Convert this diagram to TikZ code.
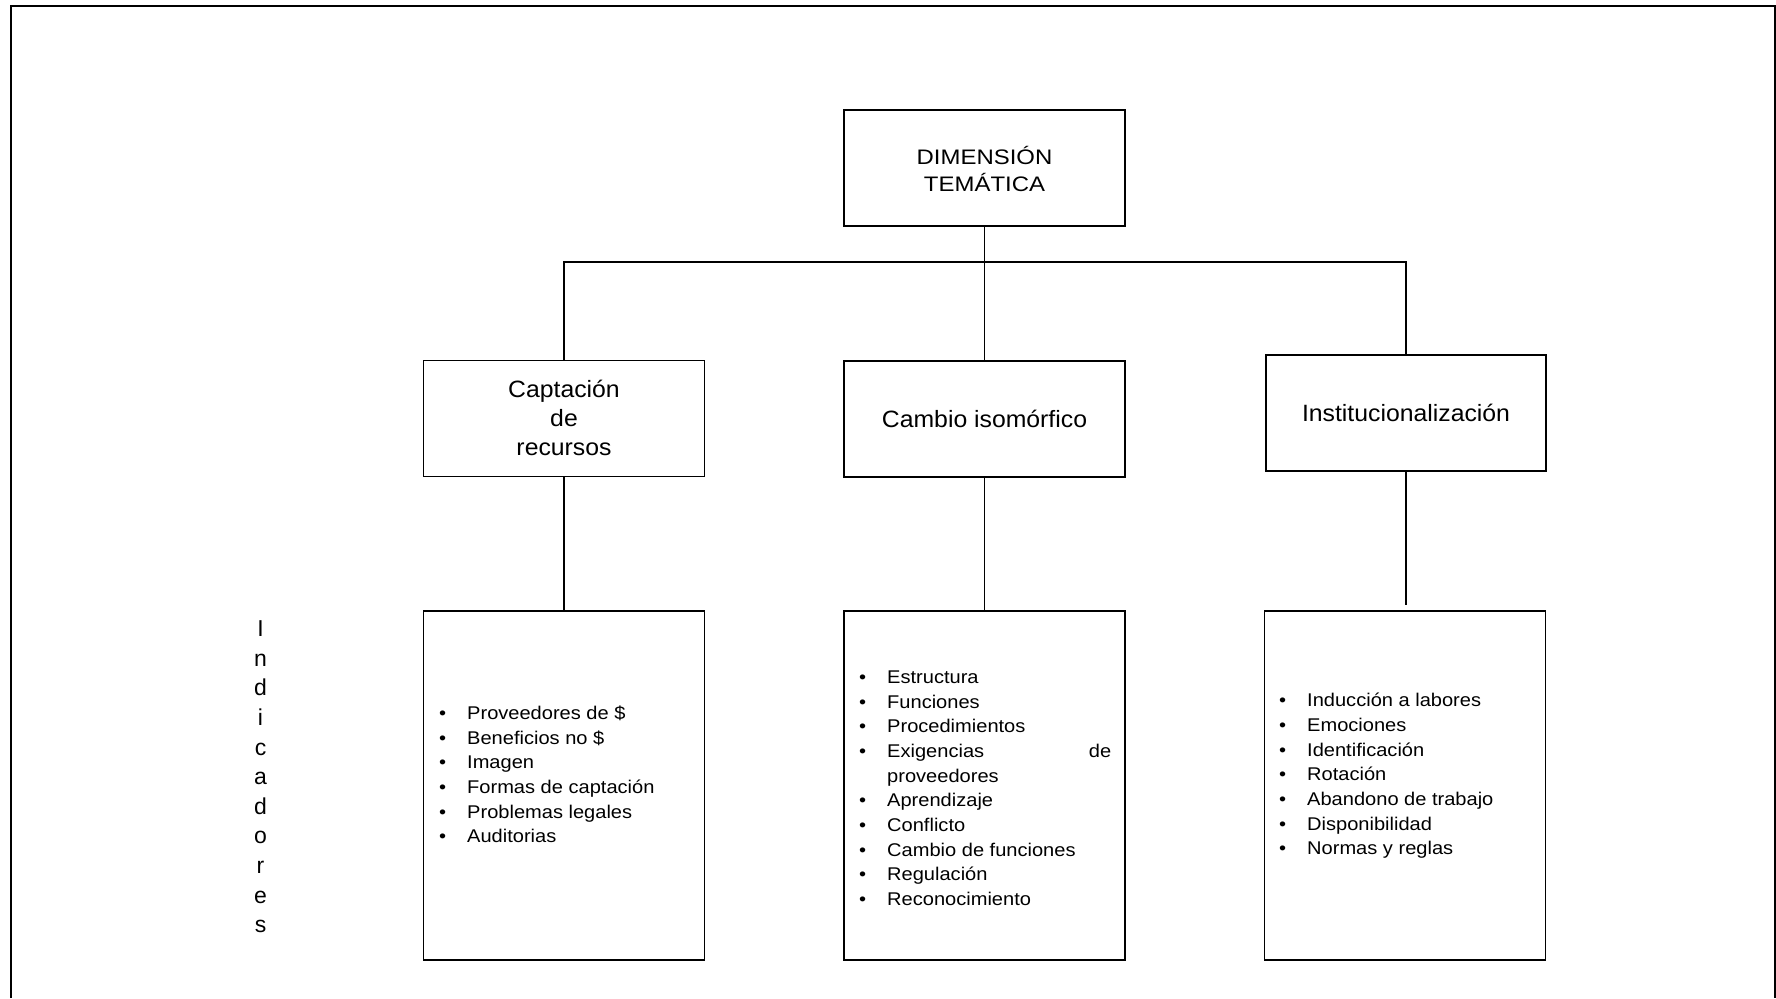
\documentclass[tikz,border=0pt]{standalone}
\usepackage{fontspec}
\setmainfont{Liberation Sans}
\newfontfamily\listf[FakeStretch=1.09]{Liberation Sans}
\newfontfamily\midf[FakeStretch=1.05]{Liberation Sans}
\newfontfamily\topf[FakeStretch=1.14]{Liberation Sans}
\newcommand{\bitem}[1]{\makebox[28pt][l]{•}#1\\}
\begin{document}
\begin{tikzpicture}[x=1pt,y=-1pt, line width=1.2pt,
  box/.style={draw, inner sep=0pt, minimum width=281pt, minimum height=116pt},
  listbox/.style={draw, inner sep=0pt, minimum width=281pt, minimum height=349pt},
  midtext/.style={font={\midf\fontsize{23.6}{29}\selectfont}},
  listtext/.style={anchor=base west, inner sep=0pt, font={\listf\fontsize{18.4}{24.7}\selectfont}}]
\useasboundingbox (0,0) rectangle (1776,998);
\draw[line width=2pt] (11,998) -- (11,6) -- (1775,6) -- (1775,998);

% top box
\node[box, text height=20pt, text depth=28pt, font={\topf\fontsize{21}{27.7}\selectfont}] (top) at (984.5,168)
  {\begin{tabular}[t]{@{}c@{}}DIMENSIÓN\\TEMÁTICA\end{tabular}};

% middle row
\node[box, midtext, text height=18pt, text depth=59.6pt] (cap) at (564,418.5)
  {\begin{tabular}[t]{@{}c@{}}Captación\\de\\recursos\end{tabular}};
\node[box, midtext] (cam) at (984.5,419) {Cambio isomórfico};
\node[box, midtext, minimum width=280pt] (ins) at (1406,413) {Institucionalización};

% bottom boxes
\node[listbox] (b1) at (564,785.5) {};
\node[listbox] (b2) at (984.5,785.5) {};
\node[listbox] (b3) at (1405,785.5) {};

% lists
\node[listtext] (l1) at (438.6,719.3) {\begin{tabular}[t]{@{}l@{}}%
\bitem{Proveedores de \$}%
\bitem{Beneficios no \$}%
\bitem{Imagen}%
\bitem{Formas de captación}%
\bitem{Problemas legales}%
\makebox[28pt][l]{•}Auditorias
\end{tabular}};

\node[listtext] (l2) at (858.6,683.3) {\begin{tabular}[t]{@{}l@{}}%
\bitem{Estructura}%
\bitem{Funciones}%
\bitem{Procedimientos}%
\makebox[28pt][l]{•}\makebox[224pt][s]{Exigencias\hfill de}\\
\hspace*{28pt}proveedores\\
\bitem{Aprendizaje}%
\bitem{Conflicto}%
\bitem{Cambio de funciones}%
\bitem{Regulación}%
\makebox[28pt][l]{•}Reconocimiento
\end{tabular}};

\node[listtext] (l3) at (1278.6,706.7) {\begin{tabular}[t]{@{}l@{}}%
\bitem{Inducción a labores}%
\bitem{Emociones}%
\bitem{Identificación}%
\bitem{Rotación}%
\bitem{Abandono de trabajo}%
\bitem{Disponibilidad}%
\makebox[28pt][l]{•}Normas y reglas
\end{tabular}};

% vertical label
\node[anchor=base, inner sep=0pt, font={\fontsize{23}{29.6}\selectfont}] (ind) at (260.5,636.7)
  {\begin{tabular}[t]{@{}c@{}}I\\n\\d\\i\\c\\a\\d\\o\\r\\e\\s\end{tabular}};

% connectors
\coordinate (hl) at (564,262);
\coordinate (hr) at (1406,262);
\coordinate (ie) at (1406,605);
\draw (top.south) -- (cam.north);
\draw (cap.north) -- (hl) -- (hr) -- (ins.north);
\draw (cap.south) -- (b1.north);
\draw (cam.south) -- (b2.north);
\draw (ins.south) -- (ie);
\end{tikzpicture}
\end{document}
